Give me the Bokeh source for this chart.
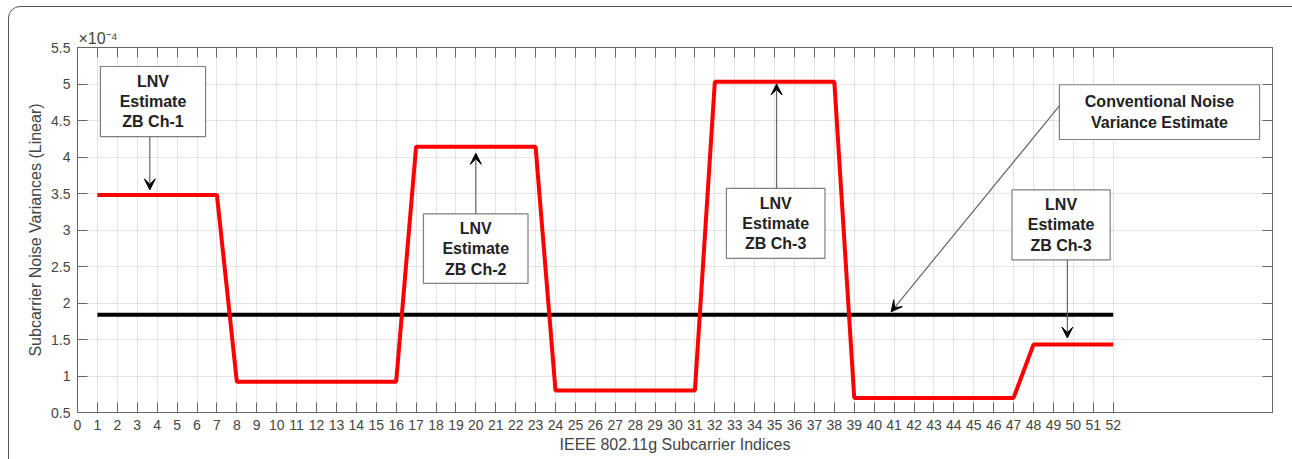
from bokeh.plotting import figure
from bokeh.models import (FixedTicker, CustomJSTickFormatter, Range1d, LinearAxis,
                          Arrow, VeeHead, ColumnDataSource, InlineStyleSheet)
from bokeh.core.properties import value
from bokeh.embed import file_html
from bokeh.resources import INLINE

# ---------------- data (noise variances in units of 1e-4) ----------------
subcarriers = list(range(1, 53))
lnv_estimate = [3.48, 3.48, 3.48, 3.48, 3.48, 3.48, 3.48,
                0.92, 0.92, 0.92, 0.92, 0.92, 0.92, 0.92, 0.92, 0.92,
                4.14, 4.14, 4.14, 4.14, 4.14, 4.14, 4.14,
                0.80, 0.80, 0.80, 0.80, 0.80, 0.80, 0.80, 0.80,
                5.03, 5.03, 5.03, 5.03, 5.03, 5.03, 5.03,
                0.70, 0.70, 0.70, 0.70, 0.70, 0.70, 0.70, 0.70, 0.70,
                1.43, 1.43, 1.43, 1.43, 1.43]
conventional_estimate = [1.84] * 52

x_ticks = list(range(0, 53))
y_ticks = [0.5, 1, 1.5, 2, 2.5, 3, 3.5, 4, 4.5, 5, 5.5]

# annotation boxes (data coords): left, right, bottom, top, text
box_left = [1.15, 17.37, 32.58, 49.30, 46.92]
box_right = [6.43, 22.62, 37.53, 59.35, 51.85]
box_bottom = [4.28, 2.27, 2.61, 4.24, 2.59]
box_top = [5.24, 3.22, 3.57, 4.99, 3.55]
box_text = ["LNV\nEstimate\nZB Ch-1", "LNV\nEstimate\nZB Ch-2", "LNV\nEstimate\nZB Ch-3",
            "Conventional Noise\nVariance Estimate", "LNV\nEstimate\nZB Ch-3"]

# arrows (data coords)
arrow_x0 = [3.63, 20.0, 35.1, 49.30, 49.7]
arrow_y0 = [4.28, 3.22, 3.57, 4.70, 2.59]
arrow_x1 = [3.63, 20.0, 35.1, 40.85, 49.7]
arrow_y1 = [3.55, 4.05, 5.00, 1.88, 1.52]

AX = "#666666"
TXT = "#444444"
FONT = "Liberation Sans"

p = figure(width=1292, height=459, output_backend="svg", toolbar_location=None,
           x_range=Range1d(0, 60), y_range=Range1d(0.5, 5.5),
           min_border_left=77, min_border_right=20, min_border_top=47, min_border_bottom=47,
           title="×10⁻⁴",
           x_axis_label="IEEE 802.11g Subcarrier Indices",
           y_axis_label="Subcarrier Noise Variances (Linear)")

# rounded border of the original picture
p.stylesheets = [InlineStyleSheet(css="""
:host { overflow: hidden; }
:host::after {
  content: ""; position: absolute; left: 8px; top: 6px; width: 1300px; height: 520px;
  border: 1.5px solid #555; border-radius: 12px; pointer-events: none; box-sizing: border-box;
}
""")]

fmt = CustomJSTickFormatter(code="return tick.toString();")
blank = CustomJSTickFormatter(code="return '';")

def style_axis(ax, ticks, labels=True):
    ax.ticker = FixedTicker(ticks=ticks)
    ax.axis_line_color = AX
    ax.major_tick_line_color = AX
    ax.major_tick_in = 10
    ax.major_tick_out = 0
    ax.minor_tick_line_color = None
    ax.major_label_text_font = FONT
    ax.major_label_text_font_size = "14px"
    ax.major_label_text_color = TXT
    ax.axis_label_text_font = FONT
    ax.axis_label_text_font_size = "16px"
    ax.axis_label_text_font_style = "normal"
    ax.axis_label_text_color = TXT
    if labels:
        ax.formatter = fmt
    else:
        ax.formatter = blank
        ax.major_label_standoff = 0

style_axis(p.xaxis[0], x_ticks)
p.xaxis[0].major_label_standoff = 7
p.xaxis[0].axis_label_standoff = 3
style_axis(p.yaxis[0], y_ticks)
p.yaxis[0].major_label_standoff = 7
p.yaxis[0].axis_label_standoff = 4

top_ax = LinearAxis()
style_axis(top_ax, x_ticks, labels=False)
p.add_layout(top_ax, "above")
right_ax = LinearAxis()
style_axis(right_ax, y_ticks, labels=False)
p.add_layout(right_ax, "right")

p.title.align = "left"
p.title.offset = 1
p.title.standoff = 2
p.title.text_font = FONT
p.title.text_font_size = "16px"
p.title.text_font_style = "normal"
p.title.text_color = TXT

p.outline_line_color = AX
p.xgrid.ticker = FixedTicker(ticks=x_ticks)
p.ygrid.ticker = FixedTicker(ticks=y_ticks)
p.xgrid.grid_line_color = "#e3e3e3"
p.ygrid.grid_line_color = "#e3e3e3"
p.background_fill_color = "white"
p.border_fill_color = "white"

# series
p.line(subcarriers, conventional_estimate, line_color="black", line_width=4)
p.line(subcarriers, lnv_estimate, line_color="#ff0000", line_width=4)

# annotation boxes and texts
box_src = ColumnDataSource(dict(left=box_left, right=box_right, bottom=box_bottom, top=box_top,
                                xc=[(a + b) / 2 for a, b in zip(box_left, box_right)],
                                yc=[(a + b) / 2 for a, b in zip(box_bottom, box_top)],
                                text=box_text))
p.quad(left="left", right="right", bottom="bottom", top="top", source=box_src,
       fill_color="white", line_color="#7f7f7f", line_width=1.2)
p.text(x="xc", y="yc", text="text", source=box_src, text_align="center", text_baseline="middle",
       text_font=value(FONT), text_font_style="bold", text_font_size="16px",
       text_color="#222222", text_line_height=1.2)

for x0, y0, x1, y1 in zip(arrow_x0, arrow_y0, arrow_x1, arrow_y1):
    p.add_layout(Arrow(x_start=x0, y_start=y0, x_end=x1, y_end=y1,
                       line_color="#666666", line_width=1.2,
                       end=VeeHead(size=11, fill_color="black", line_color="black")))

open("out.html", "w").write(file_html(p, INLINE))
